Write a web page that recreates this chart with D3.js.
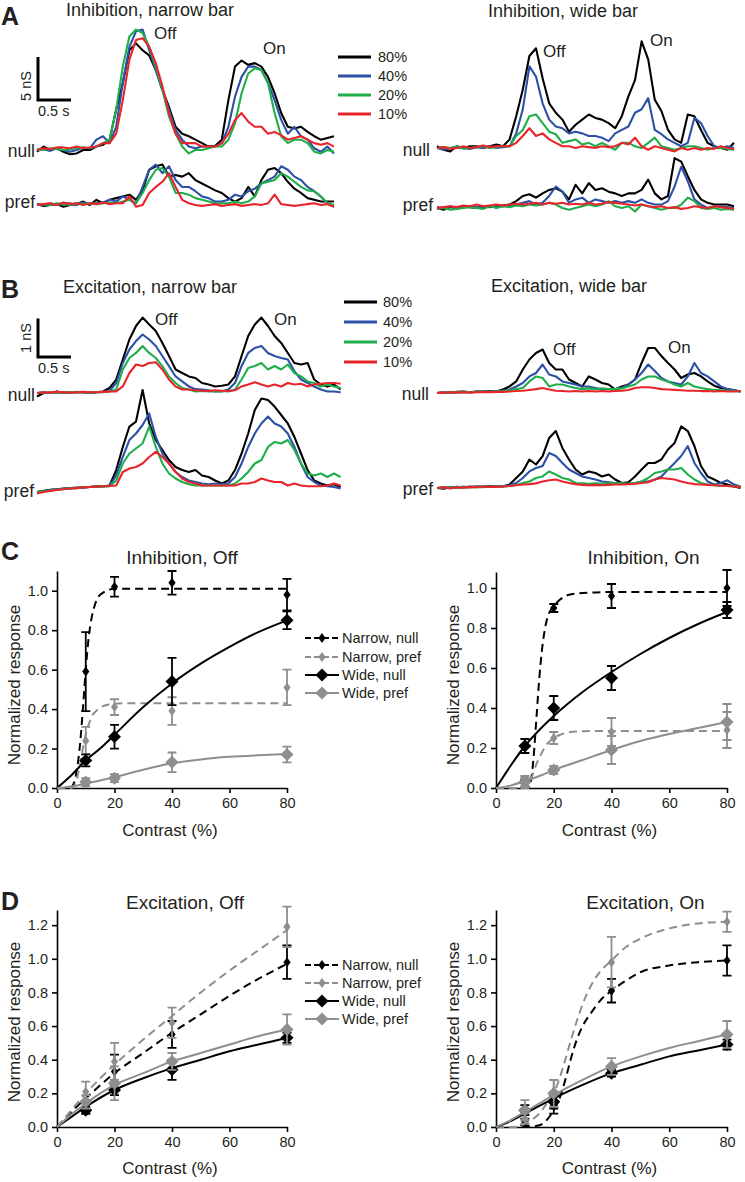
<!DOCTYPE html>
<html><head><meta charset="utf-8">
<script src="https://cdn.jsdelivr.net/npm/d3@7"></script>
<style>body{margin:0;background:#fff}svg{display:block;font-family:"Liberation Sans",Arial,Helvetica,sans-serif}</style>
</head><body><svg id="fig" width="745" height="1182"></svg>
<script>
// ---------------- DATA: conductance traces (nS), sampled every 0.1 s ----------------
const contrastLevels = ["80%", "40%", "20%", "10%"];
const traceColors = ["#000000", "#2b50a5", "#1fae4a", "#e8252b"];
const sampleStep = 0.1;

// A: Inhibition, narrow bar
const inhNarNull80 = [-0.2,0.4,0,0.2,-0.2,-0.5,-0.4,0,0,0.4, 0.6,1.2,4.7,7.8,11.6,12.4,11.6,11.0,9.3,7.0, 5.0,2.7,1.9,1.6,1.2,0.8,0.4,0.5,1.2,5.8, 9.7,10.4,9.9,10.1,9.7,8.5,6.6,4.3,2.7,2.5, 2.7,2.1,1.6,1.2,1.4,1.6];
const inhNarNull40 = [0,0.1,-0.1,0.2,0,-0.2,0,0.3,0.2,1.2, 1.6,0.8,2.7,7.8,12.0,13.8,14.0,11.6,9.3,7.0, 4.7,2.3,1.2,0.4,0.2,0.4,0.4,0.4,0.8,2.7, 6.2,8.5,9.7,9.7,9.3,7.8,5.8,3.5,1.9,2.7, 1.6,1.2,0.2,-0.2,0.4,-0.4];
const inhNarNull20 = [0.1,0,0.2,0.1,0,0.1,0.2,0.3,0.2,0.4, 0.8,1.2,4.7,9.7,13.2,14.0,13.6,12.0,9.7,7.0, 3.9,1.9,0.4,-0.4,0,0,0.2,0.4,0.4,1.2, 3.1,6.6,8.9,9.5,9.3,7.8,4.3,1.6,0.8,1.2, 1.2,0.8,-0.2,-0.4,0,-0.2];
const inhNarNull10 = [0,0.2,0.1,0.3,0.3,0.2,0.4,0.2,0.3,0.4, 0.8,0.8,1.9,5.8,10.5,12.8,13.0,12.0,10.1,7.4, 4.3,1.9,0.8,0.8,0.8,0.4,0.4,0.4,0.8,1.9, 3.5,4.3,3.3,2.7,2.7,1.9,2.1,1.7,1.2,1.4, 1.6,1.2,0.8,0.6,0.8,0.4];
const inhNarPref80 = [0.1,-0.1,0,0.1,-0.2,0,0.1,0.4,0,0.6, 0.2,0.6,0.8,1.0,1.2,0.6,1.7,4.1,4.5,4.7, 3.3,3.5,3.3,3.7,2.9,2.5,2.1,1.7,1.4,0.8, 0.4,0.8,2.1,1.0,2.9,4.1,4.3,3.7,2.7,1.9, 1.4,0.8,0.6,0.4,0.4,0.4];
const inhNarPref40 = [0.1,0,0.2,0,0.1,0.2,0,0.3,0.1,0.2, 0.3,0.6,0.4,1.0,0.6,0.2,2.1,4.1,4.7,3.7, 4.5,2.9,2.1,2.1,1.6,1.0,0.8,0.4,0.4,0.6, 1.2,1.0,1.6,1.9,2.5,2.9,3.3,4.5,4.1,3.3, 2.9,2.1,1.6,1.0,0.2,-0.2];
const inhNarPref20 = [0,0.1,0,0.2,0.1,0,0.2,0.1,0.2,0.1, 0.2,0.3,0.2,0.4,0.6,0.2,1.4,2.9,4.1,4.3, 3.3,1.4,1.4,1.2,0.8,0.6,0.4,0.2,0.2,0.2, 0.4,0.2,0.4,1.0,2.5,2.7,2.9,3.7,3.3,2.7, 2.1,1.7,1.6,1.0,0.2,0];
const inhNarPref10 = [0,0.1,0.2,0,0.3,0.1,0.2,0,0.2,0.1, 0.3,0.1,0.2,0.2,1.0,-0.2,0,1.4,2.1,2.7, 3.7,2.1,0.6,0.2,0,-0.1,0,0.1,-0.1,0, 0.1,-0.1,0,0.1,0,0.2,1.2,0.1,0,-0.1, 0,0.1,0.2,0,0.1,-0.2];

// A: Inhibition, wide bar
const inhWideNull80 = [0.2,-0.2,-0.4,0.2,0,0.2,0.2,0,0.2,0.4, 0.2,1.0,3.7,6.8,10.7,11.6,8.1,5.2,4.1,3.3, 1.9,2.7,3.3,3.9,3.5,3.3,2.9,2.3,3.7,6.0, 7.9,12.4,10.3,5.6,4.3,2.1,1.0,0.6,3.9,3.7, 2.1,0.6,0.2,0,-0.2,0.6];
const inhWideNull40 = [0,-0.2,0,0.1,0,-0.1,0.1,0,0.2,0, 0.1,0.2,1.7,4.5,9.5,8.3,5.2,3.3,2.5,2.3, 1.7,1.9,1.7,1.4,1.4,1.2,0.8,1.7,2.1,2.5, 4.1,4.5,5.8,2.1,1.6,1.0,0.6,0.2,0.6,3.5, 2.9,1.4,0.2,0,0.2,0];
const inhWideNull20 = [0,0.1,0,0.2,-0.1,0,0.1,0.2,0,0.1, 0.2,0.2,1.4,2.1,3.7,3.9,2.9,1.9,1.6,0.6, 0.8,1.0,0.4,0.6,0.2,0.6,0.2,-0.2,0.6,0.6, 0.2,0,0.6,1.2,0.2,0,-0.2,0,0.2,0.2, 0,-0.2,0,0,-0.1,-0.2];
const inhWideNull10 = [0,0.1,-0.1,0,0.2,0,0.1,0.3,0.1,0.2, 0.2,0.2,0.6,1.4,2.3,1.4,1.7,1.0,0.6,0.2, 0.2,0,0.2,0.1,0,0.2,0.1,0.2,0.6,0.4, 1.2,0.2,-0.2,0.2,0,-0.2,-0.4,0,-0.2,0, -0.2,0,-0.1,0.2,0,-0.1];
const inhWidePref80 = [0,-0.2,0.1,0,0.2,0.1,0,0.2,0.1,0.2, 0.3,0.4,0.8,1.4,1.6,1.2,1.7,2.1,2.3,1.9, 1.0,2.7,1.7,2.9,2.1,2.3,1.9,1.7,1.4,1.7, 1.7,2.1,3.3,1.7,1.0,1.4,5.8,5.4,3.7,2.1, 1.0,0.6,0.4,0.4,0.4,0.2];
const inhWidePref40 = [0.1,0,0.2,0,0.1,0.2,0.1,0,0.2,0.1, 0.2,0.3,0.4,0.6,0.8,0.4,0.6,1.4,2.5,1.9, 0.6,1.0,1.2,0.6,1.0,0.8,0.6,0.8,0.6,0.8, 0.6,1.0,0.6,0.4,0.4,0.8,2.5,4.8,3.1,1.0, 0.4,0,0.2,0.2,0.1,0];
const inhWidePref20 = [-0.1,0,-0.2,-0.1,0,0.1,0,-0.1,0.2,0, 0.2,0.1,0.3,0.2,0.4,0.3,0.4,0.6,0.4,0, -0.2,0,0.2,0.4,0.2,0.4,0.8,0.2,0,0.2, -0.4,0.4,0.2,0,-0.2,0,0,0.4,1.2,0.8, 0,-0.1,0,-0.2,-0.1,-0.2];
const inhWidePref10 = [0,0.1,0.2,0.1,0.3,0.2,0.4,0.2,0.3,0.4, 0.3,0.4,0.5,0.4,0.5,0.6,0.4,0.6,0.5,0.6, 0.4,0.5,0.4,0.6,0.4,0.5,0.7,0.6,0.5,0.4, 0.3,0.4,0.2,0.1,0.2,0.0,0.1,-0.1,0,0.2, 0.1,0,0.2,0.1,0,-0.1];

// B: Excitation, narrow bar
const excNarNull80 = [-0.09,0,0,0.04,0,0.02,0.02,0.02,0,0.02, 0.04,0.13,0.35,0.87,1.39,1.74,1.96,1.78,1.61,1.30, 0.96,0.61,0.52,0.43,0.39,0.26,0.22,0.17,0.19,0.22, 0.43,0.96,1.48,1.78,1.96,1.74,1.48,1.30,1.04,0.78, 0.74,0.78,0.35,0.22,0.17,0.22,0.09];
const excNarNull40 = [0,0.02,0,0.03,0.01,0,0.02,0.02,0.01,0.02, 0.03,0.05,0.26,0.78,1.13,1.35,1.52,1.39,1.22,0.96, 0.70,0.43,0.30,0.17,0.10,0.09,0.07,0.04,0.04,0.09, 0.26,0.70,1.04,1.17,1.22,1.04,0.96,0.91,0.87,0.57, 0.35,0.26,0.17,0.09,0.04,0.04,0.02];
const excNarNull20 = [0,0.01,0.02,0,0.02,0.01,0.03,0.02,0.01,0.02, 0.02,0.04,0.09,0.61,0.91,1.04,1.22,1.04,0.91,0.70, 0.43,0.26,0.13,0.09,0.04,0.05,0.04,0.04,0.05,0.04, 0.09,0.35,0.65,0.70,0.78,0.61,0.70,0.61,0.74,0.52, 0.43,0.30,0.26,0.17,0.22,0.17,0.13];
const excNarNull10 = [0,0.02,0.01,0.03,0.02,0.01,0.02,0.03,0.02,0.02, 0.03,0.04,0.04,0.17,0.52,0.74,0.70,0.78,0.80,0.61, 0.35,0.17,0.09,0.09,0.07,0.06,0.05,0.07,0.06,0.05, 0.07,0.17,0.22,0.28,0.22,0.17,0.22,0.17,0.26,0.22, 0.24,0.17,0.22,0.24,0.26,0.26,0.24];
const excNarPref80 = [0,0.03,0.06,0.07,0.09,0.10,0.11,0.12,0.13,0.15, 0.15,0.17,0.57,1.17,1.70,1.83,2.65,1.78,1.35,1.09, 0.83,0.65,0.57,0.52,0.57,0.43,0.39,0.30,0.22,0.30, 0.57,1.00,1.52,2.13,2.43,2.39,2.22,2.00,1.78,1.43, 1.00,0.57,0.30,0.22,0.17,0.20,0.13];
const excNarPref40 = [0,0.02,0.05,0.07,0.08,0.10,0.11,0.12,0.13,0.14, 0.15,0.16,0.43,0.91,1.35,1.52,1.74,2.04,1.43,1.00, 0.74,0.52,0.39,0.30,0.26,0.22,0.20,0.22,0.20,0.22, 0.39,0.74,1.17,1.52,1.78,1.96,1.78,1.70,1.52,1.17, 0.74,0.39,0.26,0.17,0.15,0.13,0.09];
const excNarPref20 = [0,0.02,0.04,0.06,0.08,0.09,0.10,0.12,0.13,0.14, 0.14,0.15,0.30,0.74,1.00,1.13,1.26,1.70,1.17,0.74, 0.48,0.35,0.26,0.20,0.17,0.17,0.17,0.17,0.17,0.17, 0.22,0.35,0.52,0.74,0.83,1.17,1.30,1.26,1.35,1.09, 0.74,0.48,0.43,0.48,0.39,0.48,0.39];
const excNarPref10 = [-0.04,0,0.03,0.05,0.07,0.09,0.10,0.12,0.13,0.14, 0.15,0.16,0.17,0.52,0.61,0.65,0.74,0.91,1.04,0.91, 0.74,0.52,0.35,0.26,0.22,0.17,0.17,0.17,0.17,0.17, 0.17,0.22,0.22,0.26,0.35,0.30,0.26,0.26,0.17,0.22, 0.17,0.15,0.15,0.15,0.17,0.22,0.17];

// B: Excitation, wide bar
const excWideNull80 = [0,0.02,0.01,0.03,0.04,0.02,0.04,0.04,0.05,0.04, 0.09,0.17,0.30,0.61,0.87,1.04,1.13,0.78,0.61,0.61, 0.35,0.26,0.17,0.43,0.35,0.26,0.22,0.09,0.17,0.22, 0.35,0.78,1.17,1.17,0.96,0.78,0.61,0.39,0.48,0.52, 0.43,0.30,0.19,0.13,0.10,0.07,0.04];
const excWideNull40 = [0,0.01,0.02,0.02,0.03,0.02,0.04,0.03,0.04,0.04, 0.06,0.09,0.17,0.26,0.43,0.52,0.74,0.48,0.43,0.30, 0.26,0.22,0.17,0.17,0.13,0.09,0.10,0.10,0.13,0.22, 0.35,0.52,0.74,0.57,0.39,0.30,0.26,0.22,0.43,0.78, 0.52,0.43,0.30,0.17,0.10,0.07,0.04];
const excWideNull20 = [0,0.02,0.01,0.02,0.03,0.02,0.03,0.04,0.03,0.04, 0.05,0.07,0.10,0.13,0.30,0.43,0.39,0.17,0.22,0.22, 0.17,0.13,0.10,0.12,0.10,0.12,0.10,0.10,0.12,0.17, 0.22,0.35,0.43,0.43,0.35,0.30,0.22,0.17,0.26,0.17, 0.13,0.10,0.08,0.07,0.06,0.05,0.04];
const excWideNull10 = [0,0.01,0.02,0.01,0.02,0.01,0.02,0.03,0.02,0.03, 0.03,0.04,0.05,0.06,0.08,0.10,0.13,0.09,0.06,0.05, 0.04,0.05,0.04,0.05,0.04,0.05,0.04,0.05,0.06,0.08, 0.13,0.15,0.15,0.13,0.10,0.09,0.08,0.07,0.06,0.06, 0.05,0.05,0.04,0.05,0.04,0.04,0.05];
const excWidePref80 = [0,-0.02,0.02,0.01,0.03,0.02,0.04,0.03,0.05,0.04, 0.04,0.09,0.26,0.43,0.74,0.61,0.83,1.30,1.48,1.04, 0.74,0.48,0.35,0.43,0.39,0.30,0.35,0.22,0.13,0.15, 0.30,0.48,0.65,0.65,0.74,1.00,1.17,1.60,1.48,1.09, 0.57,0.30,0.22,0.13,0.09,0.04,0.0];
const excWidePref40 = [0,0.02,0.01,0.03,0.02,0.04,0.03,0.04,0.03,0.04, 0.05,0.07,0.13,0.26,0.43,0.52,0.57,0.91,0.83,0.65, 0.48,0.39,0.30,0.26,0.22,0.17,0.15,0.13,0.12,0.11, 0.12,0.17,0.17,0.22,0.30,0.48,0.65,0.83,1.09,0.65, 0.39,0.17,0.09,0.13,0.20,0.09,0.04];
const excWidePref20 = [0,0.01,0.02,0.01,0.03,0.02,0.03,0.02,0.04,0.03, 0.04,0.05,0.08,0.13,0.17,0.26,0.30,0.43,0.35,0.26, 0.22,0.13,0.12,0.11,0.12,0.11,0.12,0.13,0.12,0.11, 0.13,0.17,0.26,0.39,0.43,0.48,0.48,0.52,0.35,0.22, 0.13,0.09,0.07,0.06,0.05,0.04,0.04];
const excWidePref10 = [0,0.02,-0.01,0.02,0.01,0.03,0.02,0.04,0.03,0.03, 0.04,0.05,0.07,0.09,0.10,0.12,0.17,0.20,0.22,0.17, 0.13,0.10,0.08,0.07,0.08,0.07,0.08,0.09,0.09,0.10, 0.11,0.13,0.15,0.22,0.26,0.24,0.22,0.17,0.13,0.10, 0.09,0.08,0.07,0.06,0.05,0.04,0.03];

// ---------------- DATA: contrast-response ----------------
const contrasts = [10, 20, 40, 80];
const xTickValues = [0, 20, 40, 60, 80];
const conditionNames = ["Narrow, null", "Narrow, pref", "Wide, null", "Wide, pref"];

// C: Inhibition, Off
const inhOffNarNull = [0.59, 1.02, 1.04, 0.98], inhOffNarNullErr = [0.20, 0.05, 0.06, 0.08];
const inhOffNarPref = [0.24, 0.41, 0.39, 0.51], inhOffNarPrefErr = [0.07, 0.04, 0.07, 0.09];
const inhOffWideNull = [0.14, 0.26, 0.54, 0.85], inhOffWideNullErr = [0.03, 0.06, 0.12, 0.045];
const inhOffWidePref = [0.03, 0.05, 0.13, 0.17], inhOffWidePrefErr = [0.02, 0.02, 0.05, 0.04];
const inhOffNarNullFitX = [0,4,5,6,7,8,9,10,11,12,13,14,16,18,20,30,40,60,80];
const inhOffNarNullFitY = [0,0,0.005,0.03,0.1,0.22,0.4,0.6,0.76,0.86,0.92,0.96,0.99,1.005,1.01,1.01,1.01,1.01,1.01];
const inhOffNarPrefFitX = [0,5,6,7,8,9,10,11,12,14,16,18,20,25,30,40,60,80];
const inhOffNarPrefFitY = [0,0,0.01,0.05,0.12,0.2,0.27,0.32,0.36,0.395,0.415,0.423,0.427,0.43,0.43,0.43,0.43,0.43];
const inhOffWideNullFitX = [0,5,10,15,20,30,40,50,60,70,80];
const inhOffWideNullFitY = [0,0.065,0.14,0.2,0.27,0.41,0.53,0.63,0.715,0.79,0.85];
const inhOffWidePrefFitX = [0,5,10,15,20,30,40,50,60,70,80];
const inhOffWidePrefFitY = [0,0.008,0.022,0.038,0.055,0.093,0.125,0.145,0.158,0.166,0.172];

// C: Inhibition, On
const inhOnNarNull = [0.02, 0.90, 0.96, 1.00], inhOnNarNullErr = [0.02, 0.02, 0.06, 0.09];
const inhOnNarPref = [0.03, 0.25, 0.28, 0.29], inhOnNarPrefErr = [0.02, 0.03, 0.07, 0.09];
const inhOnWideNull = [0.21, 0.40, 0.55, 0.89], inhOnWideNullErr = [0.035, 0.06, 0.06, 0.04];
const inhOnWidePref = [0.03, 0.09, 0.19, 0.33], inhOnWidePrefErr = [0.03, 0.02, 0.07, 0.09];
const inhOnNarNullFitX = [0,11,12,13,14,15,16,17,18,19,20,22,25,30,40,80];
const inhOnNarNullFitY = [0,0,0.03,0.15,0.35,0.55,0.7,0.8,0.86,0.89,0.91,0.94,0.965,0.975,0.98,0.98];
const inhOnNarPrefFitX = [0,10,12,14,16,18,20,22,25,30,40,80];
const inhOnNarPrefFitY = [0,0,0.04,0.12,0.18,0.225,0.25,0.265,0.278,0.284,0.285,0.285];
const inhOnWideNullFitX = [0,5,10,15,20,30,40,50,60,70,80];
const inhOnWideNullFitY = [0,0.11,0.21,0.29,0.36,0.48,0.58,0.67,0.75,0.82,0.88];
const inhOnWidePrefFitX = [0,5,10,15,20,30,40,50,60,70,80];
const inhOnWidePrefFitY = [0,0.012,0.035,0.06,0.09,0.14,0.19,0.235,0.27,0.30,0.33];

// D: Excitation, Off
const excOffNarNull = [0.11, 0.33, 0.55, 0.98], excOffNarNullErr = [0.03, 0.10, 0.08, 0.10];
const excOffNarPref = [0.21, 0.39, 0.62, 1.19], excOffNarPrefErr = [0.06, 0.11, 0.09, 0.12];
const excOffWideNull = [0.10, 0.22, 0.34, 0.53], excOffWideNullErr = [0.02, 0.03, 0.06, 0.03];
const excOffWidePref = [0.15, 0.26, 0.39, 0.58], excOffWidePrefErr = [0.04, 0.10, 0.05, 0.09];
const excOffFitX = [0,5,10,20,30,40,50,60,70,80];
const excOffNarNullFitY = [0,0.09,0.17,0.32,0.44,0.56,0.67,0.78,0.88,0.97];
const excOffNarPrefFitY = [0,0.1,0.2,0.37,0.52,0.66,0.8,0.93,1.05,1.17];
const excOffWideNullFitY = [0,0.06,0.12,0.22,0.29,0.35,0.40,0.45,0.49,0.53];
const excOffWidePrefFitY = [0,0.075,0.14,0.25,0.32,0.39,0.44,0.49,0.54,0.58];

// D: Excitation, On
const excOnNarNull = [0.03, 0.13, 0.81, 0.99], excOnNarNullErr = [0.02, 0.05, 0.07, 0.09];
const excOnNarPref = [0.05, 0.20, 0.98, 1.22], excOnNarPrefErr = [0.03, 0.08, 0.15, 0.06];
const excOnWideNull = [0.10, 0.15, 0.32, 0.49], excOnWideNullErr = [0.03, 0.04, 0.02, 0.03];
const excOnWidePref = [0.10, 0.20, 0.36, 0.55], excOnWidePrefErr = [0.06, 0.08, 0.05, 0.08];
const excOnNarNullFitX = [0,10,15,18,20,22,24,26,28,30,33,36,40,45,50,60,70,80];
const excOnNarNullFitY = [0,0,0.01,0.05,0.1,0.17,0.28,0.41,0.52,0.6,0.68,0.75,0.81,0.87,0.92,0.96,0.98,0.99];
const excOnNarPrefFitX = [0,7,10,15,18,20,22,24,26,28,30,32,35,40,45,50,60,70,80];
const excOnNarPrefFitY = [0,0,0.02,0.08,0.15,0.2,0.29,0.4,0.52,0.63,0.73,0.81,0.9,0.99,1.07,1.12,1.18,1.21,1.22];
const excOnWideFitX = [0,5,10,15,20,30,40,50,60,70,80];
const excOnWideNullFitY = [0,0.035,0.08,0.125,0.17,0.25,0.32,0.37,0.42,0.455,0.49];
const excOnWidePrefFitY = [0,0.04,0.09,0.14,0.19,0.28,0.36,0.42,0.47,0.51,0.55];

// ---------------- DRAWING ----------------
const svg = d3.select("#fig");
svg.append("rect").attr("width", 745).attr("height", 1182).attr("fill", "#fff");
const txtCol = "#231f20";
const GRAY = "#8e8e8e";

function text(x, y, s, size, opts = {}) {
  const t = svg.append("text").attr("x", x).attr("y", y).text(s)
    .attr("font-size", size + "px").attr("fill", opts.fill || txtCol)
    .attr("text-anchor", opts.anchor || "start");
  if (opts.bold) t.attr("font-weight", "bold");
  if (opts.rotate) t.attr("transform", `rotate(-90,${x},${y})`);
  return t;
}

function traceGroup(x0, base, pxPerNS, sets) {
  const xs = d3.scaleLinear().domain([0, 1]).range([x0, x0 + 66]);
  const ys = d3.scaleLinear().domain([0, 1]).range([base, base - pxPerNS]);
  const line = d3.line().x((d, i) => xs(i * sampleStep)).y(d => ys(d));
  sets.forEach((vals, k) => {
    svg.append("path").attr("d", line(vals)).attr("fill", "none")
      .attr("stroke", traceColors[k]).attr("stroke-width", 2.1).attr("stroke-linejoin", "round");
  });
  return { xs, ys };
}

function scaleBar(x, yBottom, pxPerNS, nS, label, labelY) {
  const xs = d3.scaleLinear().domain([0, 1]).range([0, 66]);
  const ys = d3.scaleLinear().domain([0, 1]).range([0, pxPerNS]);
  svg.append("path").attr("d", `M${x},${yBottom - ys(nS)}V${yBottom}H${x + xs(0.5)}`)
    .attr("fill", "none").attr("stroke", "#000").attr("stroke-width", 3);
  text(31, labelY, label, 14.5, { anchor: "middle", rotate: true });
  text(x, yBottom + 16, "0.5 s", 14.5);
}

function legendLines(x1, x2, ys, tx) {
  contrastLevels.forEach((lab, k) => {
    svg.append("line").attr("x1", x1).attr("x2", x2).attr("y1", ys[k]).attr("y2", ys[k])
      .attr("stroke", traceColors[k]).attr("stroke-width", 3);
    text(tx, ys[k] + 5, lab, 14.5);
  });
}

// ---- Panel A ----
const pxA = 8.6, pxB = 38.5;
text(1, 25, "A", 25, { bold: true });
text(150, 16, "Inhibition, narrow bar", 18, { anchor: "middle" });
text(563, 17, "Inhibition, wide bar", 18, { anchor: "middle" });
traceGroup(37, 150, pxA, [inhNarNull80, inhNarNull40, inhNarNull20, inhNarNull10]);
traceGroup(37, 205, pxA, [inhNarPref80, inhNarPref40, inhNarPref20, inhNarPref10]);
traceGroup(437, 148, pxA, [inhWideNull80, inhWideNull40, inhWideNull20, inhWideNull10]);
traceGroup(437, 208, pxA, [inhWidePref80, inhWidePref40, inhWidePref20, inhWidePref10]);
scaleBar(38, 100, pxA, 5, "5 nS", 86);
legendLines(338, 371, [57, 76, 95, 114], 378);
text(35, 157, "null", 17.5, { anchor: "end" });
text(35, 208, "pref", 17.5, { anchor: "end" });
text(430, 156, "null", 17.5, { anchor: "end" });
text(433, 211, "pref", 17.5, { anchor: "end" });
text(154, 39, "Off", 17);
text(263, 54, "On", 17);
text(543, 57, "Off", 17);
text(650, 46, "On", 17);

// ---- Panel B ----
text(1, 298, "B", 25, { bold: true });
text(150, 293, "Excitation, narrow bar", 18, { anchor: "middle" });
text(569, 292, "Excitation, wide bar", 18, { anchor: "middle" });
traceGroup(37, 393, pxB, [excNarNull80, excNarNull40, excNarNull20, excNarNull10]);
traceGroup(37, 492, pxB, [excNarPref80, excNarPref40, excNarPref20, excNarPref10]);
traceGroup(437, 393, pxB, [excWideNull80, excWideNull40, excWideNull20, excWideNull10]);
traceGroup(437, 488, pxB, [excWidePref80, excWidePref40, excWidePref20, excWidePref10]);
scaleBar(38, 357, pxB, 1, "1 nS", 338);
legendLines(344, 377, [302, 322, 342, 362], 383);
text(35, 401, "null", 17.5, { anchor: "end" });
text(34, 497, "pref", 17.5, { anchor: "end" });
text(429, 400, "null", 17.5, { anchor: "end" });
text(433, 495, "pref", 17.5, { anchor: "end" });
text(155, 325, "Off", 17);
text(274, 325, "On", 17);
text(553, 355, "Off", 17);
text(668, 353, "On", 17);

// ---- Panels C / D ----
const diamondSmall = "M0,-5L3.6,0L0,5L-3.6,0Z";
const diamondBig = "M0,-6.5L6.5,0L0,6.5L-6.5,0Z";
const styles = [
  { color: "#000", dash: "8,5", marker: diamondSmall, width: 2 },
  { color: GRAY, dash: "8,5", marker: diamondSmall, width: 2 },
  { color: "#000", dash: null, marker: diamondBig, width: 2 },
  { color: GRAY, dash: null, marker: diamondBig, width: 2 }
];

function curvePanel(cfg) {
  const x = d3.scaleLinear().domain([0, 80]).range([cfg.x0, cfg.x1]);
  const y = d3.scaleLinear().domain([0, cfg.ymax]).range([cfg.y0, cfg.ytop]);
  const g = svg.append("g");
  const ax = g.append("g").attr("transform", `translate(0,${cfg.y0})`)
    .call(d3.axisBottom(x).tickValues(xTickValues).tickSize(5).tickSizeOuter(0).tickPadding(5));
  const ay = g.append("g").attr("transform", `translate(${cfg.x0},0)`)
    .call(d3.axisLeft(y).tickValues(cfg.yTicks).tickFormat(d3.format(".1f")).tickSize(5).tickSizeOuter(0).tickPadding(4));
  [ax, ay].forEach(a => {
    a.select(".domain").attr("stroke", "#000").attr("stroke-width", 1.6);
    a.selectAll(".tick line").attr("stroke", "#000").attr("stroke-width", 1.6);
    a.selectAll(".tick text").attr("font-size", "14.5px").attr("fill", txtCol)
      .attr("font-family", '"Liberation Sans",Arial,sans-serif');
  });
  text((cfg.x0 + cfg.x1) / 2 + cfg.titleDx, cfg.titleY, cfg.title, 19, { anchor: "middle" });
  text(cfg.ylabX, cfg.ylabY, "Normalized response", 17, { anchor: "middle", rotate: true });
  text((cfg.x0 + cfg.x1) / 2 - 2, cfg.xlabY, "Contrast (%)", 17, { anchor: "middle" });

  const line = d3.line().curve(d3.curveMonotoneX);
  cfg.series.forEach((s, k) => {
    const st = styles[k];
    const pts = s.fitX.map((xv, i) => [x(xv), y(s.fitY[i])]);
    const p = g.append("path").attr("d", line(pts)).attr("fill", "none")
      .attr("stroke", st.color).attr("stroke-width", st.width);
    if (st.dash) p.attr("stroke-dasharray", st.dash);
    contrasts.forEach((c, i) => {
      const cx = x(c), lo = y(s.vals[i] - s.errs[i]), hi = y(s.vals[i] + s.errs[i]);
      g.append("path").attr("d", `M${cx},${lo}V${hi}M${cx - 4.5},${lo}H${cx + 4.5}M${cx - 4.5},${hi}H${cx + 4.5}`)
        .attr("fill", "none").attr("stroke", st.color).attr("stroke-width", 1.8);
      g.append("path").attr("d", st.marker).attr("transform", `translate(${cx},${y(s.vals[i])})`)
        .attr("fill", st.color);
    });
  });
}

function curveLegend(x1, x2, ys) {
  conditionNames.forEach((name, k) => {
    const st = styles[k];
    const l = svg.append("line").attr("x1", x1).attr("x2", x2).attr("y1", ys[k]).attr("y2", ys[k])
      .attr("stroke", st.color).attr("stroke-width", 2);
    if (st.dash) l.attr("stroke-dasharray", "6,3");
    svg.append("path").attr("d", st.marker).attr("transform", `translate(${(x1 + x2) / 2},${ys[k]})`).attr("fill", st.color);
    text(x2 + 3, ys[k] + 5, name, 14.5);
  });
}

const yTicksC = [0, 0.2, 0.4, 0.6, 0.8, 1.0];
const yTicksD = [0, 0.2, 0.4, 0.6, 0.8, 1.0, 1.2];

text(1, 560, "C", 25, { bold: true });
curvePanel({ x0: 57, x1: 287, y0: 788, ytop: 571, ymax: 1.1, yTicks: yTicksC,
  title: "Inhibition, Off", titleY: 564, titleDx: 10, ylabX: 20, ylabY: 685, xlabY: 836,
  series: [
    { vals: inhOffNarNull, errs: inhOffNarNullErr, fitX: inhOffNarNullFitX, fitY: inhOffNarNullFitY },
    { vals: inhOffNarPref, errs: inhOffNarPrefErr, fitX: inhOffNarPrefFitX, fitY: inhOffNarPrefFitY },
    { vals: inhOffWideNull, errs: inhOffWideNullErr, fitX: inhOffWideNullFitX, fitY: inhOffWideNullFitY },
    { vals: inhOffWidePref, errs: inhOffWidePrefErr, fitX: inhOffWidePrefFitX, fitY: inhOffWidePrefFitY }
  ] });
curvePanel({ x0: 496, x1: 727, y0: 788, ytop: 572, ymax: 1.08, yTicks: yTicksC,
  title: "Inhibition, On", titleY: 564, titleDx: 32, ylabX: 459, ylabY: 685, xlabY: 836,
  series: [
    { vals: inhOnNarNull, errs: inhOnNarNullErr, fitX: inhOnNarNullFitX, fitY: inhOnNarNullFitY },
    { vals: inhOnNarPref, errs: inhOnNarPrefErr, fitX: inhOnNarPrefFitX, fitY: inhOnNarPrefFitY },
    { vals: inhOnWideNull, errs: inhOnWideNullErr, fitX: inhOnWideNullFitX, fitY: inhOnWideNullFitY },
    { vals: inhOnWidePref, errs: inhOnWidePrefErr, fitX: inhOnWidePrefFitX, fitY: inhOnWidePrefFitY }
  ] });
curveLegend(305, 339, [638, 657, 675, 693]);

text(1, 910, "D", 25, { bold: true });
curvePanel({ x0: 57, x1: 287, y0: 1127, ytop: 910, ymax: 1.29, yTicks: yTicksD,
  title: "Excitation, Off", titleY: 909, titleDx: 13, ylabX: 20, ylabY: 1022, xlabY: 1174,
  series: [
    { vals: excOffNarNull, errs: excOffNarNullErr, fitX: excOffFitX, fitY: excOffNarNullFitY },
    { vals: excOffNarPref, errs: excOffNarPrefErr, fitX: excOffFitX, fitY: excOffNarPrefFitY },
    { vals: excOffWideNull, errs: excOffWideNullErr, fitX: excOffFitX, fitY: excOffWideNullFitY },
    { vals: excOffWidePref, errs: excOffWidePrefErr, fitX: excOffFitX, fitY: excOffWidePrefFitY }
  ] });
curvePanel({ x0: 496, x1: 727, y0: 1127, ytop: 910, ymax: 1.29, yTicks: yTicksD,
  title: "Excitation, On", titleY: 909, titleDx: 34, ylabX: 459, ylabY: 1022, xlabY: 1174,
  series: [
    { vals: excOnNarNull, errs: excOnNarNullErr, fitX: excOnNarNullFitX, fitY: excOnNarNullFitY },
    { vals: excOnNarPref, errs: excOnNarPrefErr, fitX: excOnNarPrefFitX, fitY: excOnNarPrefFitY },
    { vals: excOnWideNull, errs: excOnWideNullErr, fitX: excOnWideFitX, fitY: excOnWideNullFitY },
    { vals: excOnWidePref, errs: excOnWidePrefErr, fitX: excOnWideFitX, fitY: excOnWidePrefFitY }
  ] });
curveLegend(305, 339, [965, 983, 1001, 1019]);
</script></body></html>
